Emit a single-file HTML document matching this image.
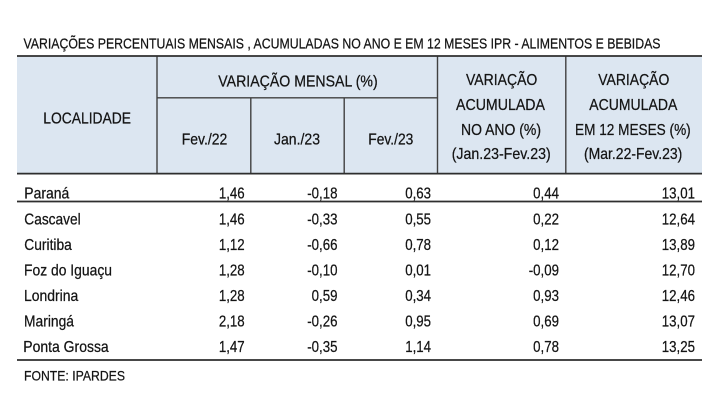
<!DOCTYPE html>
<html>
<head>
<meta charset="utf-8">
<style>
html,body{margin:0;padding:0;background:#fff;}
svg{display:block;}
text{font-family:"Liberation Sans",Arial,sans-serif;fill:#141414;stroke:#141414;stroke-width:0.25;}
</style>
</head>
<body>
<svg width="720" height="413" viewBox="0 0 720 413" xmlns="http://www.w3.org/2000/svg">
<rect x="0" y="0" width="720" height="413" fill="#ffffff"/>
<!-- title -->
<text x="23.5" y="48.3" font-size="15" textLength="637" lengthAdjust="spacingAndGlyphs">VARIAÇÕES PERCENTUAIS MENSAIS , ACUMULADAS NO ANO E EM 12 MESES IPR - ALIMENTOS E BEBIDAS</text>

<!-- header fill -->
<rect x="17" y="56" width="685" height="118" fill="#dce6f1"/>
<!-- header lines -->
<g stroke="#404040" stroke-width="1.4" fill="none">
<line x1="157" y1="56" x2="157" y2="174"/>
<line x1="437.5" y1="56" x2="437.5" y2="174"/>
<line x1="565.8" y1="56" x2="565.8" y2="174"/>
<line x1="250.8" y1="97.8" x2="250.8" y2="174"/>
<line x1="344.2" y1="97.8" x2="344.2" y2="174"/>
<line x1="157" y1="97.8" x2="437.5" y2="97.8"/>
</g>
<g stroke="#2e2e2e" stroke-width="1.7">
<line x1="17" y1="56" x2="702" y2="56"/>
<line x1="17" y1="173.6" x2="702" y2="173.6"/>
<line x1="17" y1="201.5" x2="702" y2="201.5"/>
<line x1="17" y1="360" x2="702" y2="360"/>
</g>

<!-- header text -->
<g font-size="16">
<text x="43.3" y="123.3" textLength="87.7" lengthAdjust="spacingAndGlyphs">LOCALIDADE</text>
<text x="218.3" y="86.7" textLength="159.4" lengthAdjust="spacingAndGlyphs">VARIAÇÃO MENSAL (%)</text>
<text x="181.7" y="144.3" textLength="45.6" lengthAdjust="spacingAndGlyphs">Fev./22</text>
<text x="274" y="144.3" textLength="46" lengthAdjust="spacingAndGlyphs">Jan./23</text>
<text x="368.3" y="144.3" textLength="45" lengthAdjust="spacingAndGlyphs">Fev./23</text>

<text x="466" y="85" textLength="71.3" lengthAdjust="spacingAndGlyphs">VARIAÇÃO</text>
<text x="456" y="110" textLength="89" lengthAdjust="spacingAndGlyphs">ACUMULADA</text>
<text x="461" y="135" textLength="80" lengthAdjust="spacingAndGlyphs">NO ANO (%)</text>
<text x="451.7" y="159" textLength="99" lengthAdjust="spacingAndGlyphs">(Jan.23-Fev.23)</text>

<text x="598.3" y="85" textLength="71" lengthAdjust="spacingAndGlyphs">VARIAÇÃO</text>
<text x="589.3" y="110" textLength="88" lengthAdjust="spacingAndGlyphs">ACUMULADA</text>
<text x="575" y="135" textLength="115.7" lengthAdjust="spacingAndGlyphs">EM 12 MESES (%)</text>
<text x="584" y="159" textLength="98.3" lengthAdjust="spacingAndGlyphs">(Mar.22-Fev.23)</text>
</g>

<!-- row labels -->
<g font-size="16">
<text x="24.3" y="198.3" textLength="45" lengthAdjust="spacingAndGlyphs">Paraná</text>
<text x="24.3" y="224.5" textLength="56.4" lengthAdjust="spacingAndGlyphs">Cascavel</text>
<text x="24.3" y="250" textLength="47.5" lengthAdjust="spacingAndGlyphs">Curitiba</text>
<text x="24" y="275.5" textLength="88" lengthAdjust="spacingAndGlyphs">Foz do Iguaçu</text>
<text x="24" y="301" textLength="54.3" lengthAdjust="spacingAndGlyphs">Londrina</text>
<text x="24" y="326.5" textLength="50" lengthAdjust="spacingAndGlyphs">Maringá</text>
<text x="23.3" y="351.8" textLength="85.4" lengthAdjust="spacingAndGlyphs">Ponta Grossa</text>
</g>

<!-- numbers: scaled horizontally -->
<g transform="scale(0.83,1)" font-size="16" text-anchor="end">
<text x="294.8" y="198.3">1,46</text><text x="406.6" y="198.3">-0,18</text><text x="519.3" y="198.3">0,63</text><text x="673.5" y="198.3">0,44</text><text x="837.3" y="198.3">13,01</text>
<text x="294.8" y="224.5">1,46</text><text x="406.6" y="224.5">-0,33</text><text x="519.3" y="224.5">0,55</text><text x="673.5" y="224.5">0,22</text><text x="837.3" y="224.5">12,64</text>
<text x="294.8" y="250">1,12</text><text x="406.6" y="250">-0,66</text><text x="519.3" y="250">0,78</text><text x="673.5" y="250">0,12</text><text x="837.3" y="250">13,89</text>
<text x="294.8" y="275.5">1,28</text><text x="406.6" y="275.5">-0,10</text><text x="519.3" y="275.5">0,01</text><text x="673.5" y="275.5">-0,09</text><text x="837.3" y="275.5">12,70</text>
<text x="294.8" y="301">1,28</text><text x="406.6" y="301">0,59</text><text x="519.3" y="301">0,34</text><text x="673.5" y="301">0,93</text><text x="837.3" y="301">12,46</text>
<text x="294.8" y="326.5">2,18</text><text x="406.6" y="326.5">-0,26</text><text x="519.3" y="326.5">0,95</text><text x="673.5" y="326.5">0,69</text><text x="837.3" y="326.5">13,07</text>
<text x="294.8" y="351.8">1,47</text><text x="406.6" y="351.8">-0,35</text><text x="519.3" y="351.8">1,14</text><text x="673.5" y="351.8">0,78</text><text x="837.3" y="351.8">13,25</text>
</g>

<!-- source -->
<text x="24" y="380.7" font-size="14" textLength="101" lengthAdjust="spacingAndGlyphs">FONTE: IPARDES</text>
</svg>
</body>
</html>
